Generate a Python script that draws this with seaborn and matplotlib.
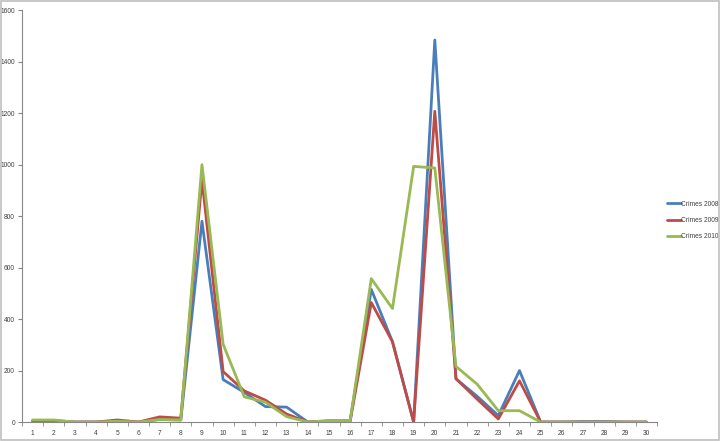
import pandas as pd
import matplotlib
matplotlib.use("Agg")
import matplotlib.pyplot as plt
import seaborn as sns
from matplotlib.patches import Rectangle

# categories 1..30
days = list(range(1, 31))

crimes_2008 = [5, 5, 0, 0, 3, 0, 10, 8, 780, 165, 115, 60, 58, 0, 5,
               5, 515, 312, 0, 1484, 168, 100, 25, 200, 0, 0, 2, 2, 0, 0]
crimes_2009 = [3, 5, 0, 0, 8, 0, 20, 15, 942, 196, 121, 85, 31, 0, 3,
               3, 464, 312, 0, 1207, 168, 89, 12, 160, 0, 0, 0, 0, 0, 0]
crimes_2010 = [8, 8, 0, 0, 3, 0, 10, 8, 1000, 302, 98, 77, 21, 0, 5,
               5, 557, 441, 993, 987, 216, 147, 44, 44, 0, 0, 0, 0, 0, 0]

series_names = ["Crimes 2008", "Crimes 2009", "Crimes 2010"]
colors = ["#4A7EBB", "#BE4B48", "#98B954"]

df = pd.DataFrame({"day": days, "Crimes 2008": crimes_2008,
                   "Crimes 2009": crimes_2009, "Crimes 2010": crimes_2010})
long = df.melt(id_vars="day", var_name="series", value_name="crimes")

sns.set_style("white")
plt.rcParams["font.family"] = ["Liberation Sans", "DejaVu Sans"]

fig = plt.figure(figsize=(7.2, 4.41), dpi=100)
ax = fig.add_axes([0.0306, 0.043, 0.882, 0.934])

sns.lineplot(data=long, x="day", y="crimes", hue="series",
             palette=colors, hue_order=series_names, linewidth=2.0, ax=ax)

ax.set_xlim(0.5, 30.5)
ax.set_ylim(0, 1600)
ax.set_xticks(days)
ax.set_xticklabels([str(d) for d in days])
ax.set_xticks([d + 0.5 for d in range(0, 31)], minor=True)
ax.set_yticks(range(0, 1601, 200))
ax.tick_params(axis="x", which="major", length=0, labelsize=4.8,
               labelcolor="#404040", pad=6)
ax.tick_params(axis="x", which="minor", length=3, color="#868686",
               direction="out", bottom=True)
ax.tick_params(axis="y", length=3, color="#868686", direction="out",
               labelsize=4.8, labelcolor="#404040", left=True, pad=2)
ax.set_xlabel("")
ax.set_ylabel("")
for s in ["top", "right"]:
    ax.spines[s].set_visible(False)
for s in ["left", "bottom"]:
    ax.spines[s].set_color("#868686")
    ax.spines[s].set_linewidth(0.8)

leg = ax.legend(loc="center left", bbox_to_anchor=(1.016, 0.489), frameon=False,
                fontsize=4.8, handlelength=2.0, handletextpad=0.1,
                labelspacing=1.4, borderaxespad=0, borderpad=0)
for t in leg.get_texts():
    t.set_color("#404040")
for h in leg.get_lines():
    h.set_linewidth(2.0)

# light frame around the chart area
fig.patches.append(Rectangle((0.002, 0.003), 0.996, 0.994, transform=fig.transFigure,
                             fill=False, edgecolor="#BFBFBF", linewidth=1.2))

fig.savefig("out.png", dpi=100)
